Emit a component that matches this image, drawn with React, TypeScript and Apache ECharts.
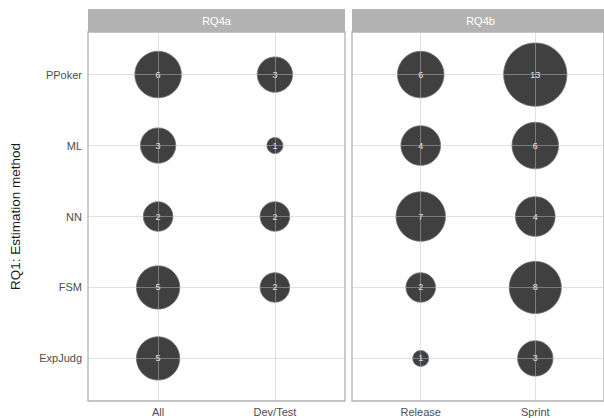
import React, { useEffect, useRef } from 'react';
import * as echarts from 'echarts';

const methods = ['PPoker', 'ML', 'NN', 'FSM', 'ExpJudg'];
const panelTitles = ['RQ4a', 'RQ4b'];
const rq4aCategories = ['All', 'Dev/Test'];
const rq4bCategories = ['Release', 'Sprint'];
const rq4aAll = [6, 3, 2, 5, 5];
const rq4aDevTest = [3, 1, 2, 2, null];
const rq4bRelease = [6, 4, 7, 2, 1];
const rq4bSprint = [13, 6, 4, 8, 3];
const yTitle = 'RQ1: Estimation method';

const FONT = '"Liberation Sans", Arial, Helvetica, sans-serif';

export default function App() {
  const ref = useRef<HTMLDivElement>(null);
  useEffect(() => {
    if (!ref.current) return;
    const chart = echarts.init(ref.current, undefined, { renderer: 'svg' });

    const panels = [
      { cats: rq4aCategories, cols: [rq4aAll, rq4aDevTest] },
      { cats: rq4bCategories, cols: [rq4bRelease, rq4bSprint] },
    ];
    const allVals: number[] = [];
    panels.forEach((p) => p.cols.forEach((c) => c.forEach((v) => { if (v != null) allVals.push(v as number); })));
    const vmin = Math.min(...allVals);
    const vmax = Math.max(...allVals);
    const dMin = 16;
    const dMax = 63.3;
    const sizeOf = (v: number) => dMin + (dMax - dMin) * Math.sqrt((v - vmin) / (vmax - vmin));

    const gridLeft = [88, 352];
    const grids = panels.map((_, k) => ({
      left: gridLeft[k],
      top: 32,
      width: 257,
      height: 369,
      show: true,
      borderColor: '#b3b3b3',
      borderWidth: 1.3,
      backgroundColor: 'transparent',
    }));

    const xAxes = panels.map((p, k) => ({
      type: 'value',
      gridIndex: k,
      min: -0.6,
      max: p.cats.length - 0.4,
      axisLine: { show: false },
      splitLine: { show: false },
      axisTick: {
        show: true,
        customValues: p.cats.map((_, i) => i),
        length: 3.7,
        lineStyle: { color: '#b3b3b3', width: 1 },
      },
      axisLabel: {
        show: true,
        customValues: p.cats.map((_, i) => i),
        formatter: (v: number) => (Math.abs(v - Math.round(v)) < 1e-6 ? p.cats[Math.round(v)] ?? '' : ''),
        color: '#4d4d4d',
        fontSize: 11,
        fontFamily: FONT,
        margin: 5,
      },
    }));

    const yAxes = panels.map((_, k) => ({
      type: 'value',
      gridIndex: k,
      min: -0.6,
      max: methods.length - 0.4,
      inverse: true,
      axisLine: { show: false },
      splitLine: { show: false },
      axisTick: {
        show: k === 0,
        customValues: methods.map((_, i) => i),
        length: 3.7,
        lineStyle: { color: '#b3b3b3', width: 1 },
      },
      axisLabel: {
        show: k === 0,
        customValues: methods.map((_, i) => i),
        formatter: (v: number) => (Math.abs(v - Math.round(v)) < 1e-6 ? methods[Math.round(v)] ?? '' : ''),
        color: '#4d4d4d',
        fontSize: 11,
        fontFamily: FONT,
        margin: 6,
      },
    }));

    const series = panels.map((p, k) => {
      const data: number[][] = [];
      p.cols.forEach((col, j) => {
        col.forEach((v, i) => {
          if (v != null) data.push([j, i, v as number]);
        });
      });
      return {
        type: 'scatter',
        xAxisIndex: k,
        yAxisIndex: k,
        data,
        symbol: 'circle',
        symbolSize: (val: number[]) => sizeOf(val[2]),
        itemStyle: { color: '#404040', borderColor: '#6e6e6e', borderWidth: 0.8, opacity: 1 },
        label: {
          show: true,
          position: 'inside',
          formatter: (prm: any) => String(prm.value[2]),
          color: '#e6e6e6',
          fontSize: 9,
          fontFamily: FONT,
        },
        markLine: {
          silent: true,
          symbol: ['none', 'none'],
          label: { show: false },
          lineStyle: { color: 'rgba(191,191,191,0.6)', width: 0.8, type: 'solid' },
          emphasis: { disabled: true },
          data: [
            ...p.cats.map((_, i) => ({ xAxis: i })),
            ...methods.map((_, i) => ({ yAxis: i })),
          ],
        },
      };
    });

    const graphic: any[] = [];
    panels.forEach((_, k) => {
      graphic.push({
        type: 'rect',
        shape: { x: gridLeft[k], y: 9, width: 257, height: 23 },
        style: { fill: '#b3b3b3' },
        silent: true,
      });
      graphic.push({
        type: 'text',
        x: gridLeft[k] + 128.5,
        y: 20.5,
        style: {
          text: panelTitles[k],
          fill: '#ffffff',
          fontSize: 11,
          fontFamily: FONT,
          align: 'center',
          verticalAlign: 'middle',
        },
        silent: true,
      });
    });
    graphic.push({
      type: 'text',
      x: 15,
      y: 216.5,
      rotation: Math.PI / 2,
      style: {
        text: yTitle,
        fill: '#1a1a1a',
        fontSize: 13.5,
        fontFamily: FONT,
        align: 'center',
        verticalAlign: 'middle',
      },
      silent: true,
    });

    chart.setOption({
      animation: false,
      backgroundColor: '#ffffff',
      grid: grids,
      xAxis: xAxes,
      yAxis: yAxes,
      series,
      graphic,
    } as any);

    return () => chart.dispose();
  }, []);

  return (
    <div
      ref={ref}
      style={{ position: 'absolute', left: 0, top: 0, width: 604, height: 418 }}
    />
  );
}
